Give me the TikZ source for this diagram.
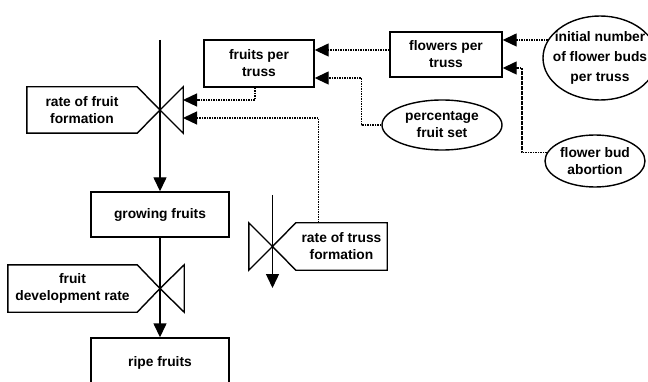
\documentclass[tikz,border=0pt]{standalone}
\usepackage{fontspec}
\setmainfont{Liberation Sans}
\usetikzlibrary{shapes.geometric, arrows.meta, calc}

\begin{document}
\begin{tikzpicture}[
    x=1pt, y=-1pt,
    every node/.style={font=\bfseries\fontsize{13.8}{17}\selectfont, align=center},
    stockbox/.style={rectangle, draw, line width=1.4pt, minimum width=138pt, minimum height=45pt},
    varbox/.style={rectangle, draw, line width=1.4pt, inner sep=0pt},
    auxbox/.style={ellipse, draw, line width=1.4pt, inner sep=0pt},
    ratelbl/.style={rectangle, inner sep=0pt},
    valve/.style={line width=1.4pt, line join=miter},
    flow/.style={-{Triangle[length=14pt,width=13pt]}, line width=1.4pt},
    infl/.style={-{Triangle[length=14pt,width=13pt]}, line width=1.3pt, dash pattern=on 1.6pt off 0.9pt}
  ]
    \useasboundingbox (0,0) rectangle (648,382);

    % Fruit chain: stocks and valves
    \coordinate (src) at (160,40);
    \node[ratelbl, minimum width=110pt, minimum height=46pt] (rff) at (82,110) {rate of fruit\\formation};
    \coordinate (v1) at (160,110);
    \node[stockbox] (growing) at (160,214.5) {growing fruits};
    \node[ratelbl, minimum width=129pt, minimum height=47pt] (fdr) at (72.5,288.5) {fruit\\development rate};
    \coordinate (v2) at (160,288.5);
    \node[stockbox, minimum height=50pt] (ripe) at (160,363) {ripe fruits};

    % Truss formation valve
    \coordinate (tsrc) at (272.5,195);
    \coordinate (tsnk) at (272.5,288);
    \node[ratelbl, minimum width=91pt, minimum height=47pt] (trf) at (341.5,246.5) {rate of truss\\formation};
    \coordinate (v3) at (272.5,246.5);

    % Auxiliaries
    \node[varbox, minimum width=110pt, minimum height=47pt] (fpt) at (259,63.5) {fruits per\\truss};
    \node[varbox, minimum width=112pt, minimum height=45pt] (fwt) at (446,54.5) {flowers per\\truss};
    \node[auxbox, minimum width=120pt, minimum height=50pt] (pfs) at (442,125) {percentage\\fruit set};
    \node[auxbox, inner sep=-15pt, minimum width=114pt, minimum height=84pt, font=\bfseries\fontsize{13.8}{20}\selectfont] (ini) at (600,58) {initial number\\of flower buds\\per truss};
    \node[auxbox, minimum width=100pt, minimum height=52pt] (fba) at (595,161) {flower bud\\abortion};

    % Valve outlines
    \draw[valve] (rff.north east) -- (rff.north west) -- (rff.south west) -- (rff.south east) -- (v1) -- cycle;
    \draw[valve] (v1) -- ([xshift=46pt]rff.north east) -- ([xshift=46pt]rff.south east) -- cycle;
    \draw[valve] (fdr.north east) -- (fdr.north west) -- (fdr.south west) -- (fdr.south east) -- (v2) -- cycle;
    \draw[valve] (v2) -- ([xshift=47pt]fdr.north east) -- ([xshift=47pt]fdr.south east) -- cycle;
    \draw[valve] (trf.north west) -- (trf.north east) -- (trf.south east) -- (trf.south west) -- (v3) -- cycle;
    \draw[valve] (v3) -- ([xshift=-47pt]trf.north west) -- ([xshift=-47pt]trf.south west) -- cycle;
    \coordinate (v1a) at ($(v1)+(23,-10)$);
    \coordinate (v1b) at ($(v1)+(23,8)$);

    % Flows
    \draw[flow] (src) -- (growing.north);
    \draw[flow] (growing.south) -- (ripe.north);
    \draw[flow] (tsrc) -- (tsnk);

    % Information links
    \draw[infl] ([xshift=-4pt]fpt.south) |- (v1a);
    \draw[infl] ([xshift=-23pt]trf.north) |- (v1b);
    \draw[infl] ([yshift=4.5pt]fwt.west) -- ([yshift=4.5pt]fwt.west -| fpt.east);
    \draw[infl] (pfs.west) -- ++(-20,0) |- ([yshift=-14.5pt]fpt.east);
    \draw[infl] (ini.161) -- (ini.161 -| fwt.east);
    \draw[infl] (fba.170) -- ++(-25,0) |- ([yshift=-13.5pt]fwt.east);
  \end{tikzpicture}
\end{document}
